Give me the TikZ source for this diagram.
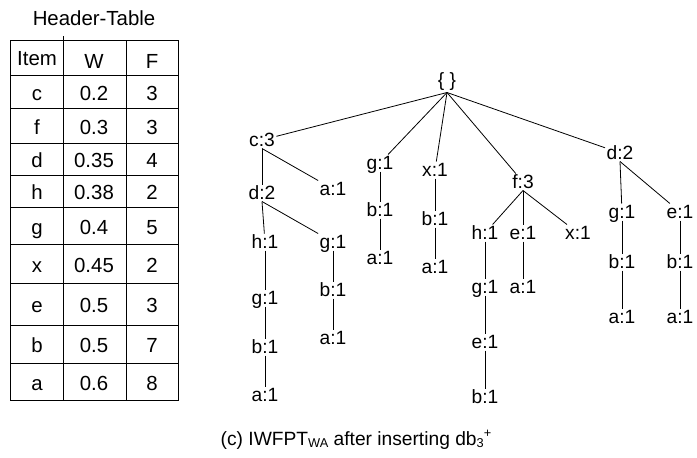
\documentclass[tikz,border=0pt]{standalone}
\usepackage{fontspec}
\setmainfont{Liberation Sans}
\usetikzlibrary{positioning}
\tikzset{entry/.style = {inner sep=0.6pt, font=\fontsize{9.6}{11}\selectfont, text height=6.9pt, text depth=0pt}}
\tikzset{cell/.style = {inner sep=0pt, font=\fontsize{10.2}{12}\selectfont, text height=7.3pt, text depth=0pt}}

\begin{document}
\begin{tikzpicture}[x=0.5pt, y=-0.5pt]
            \useasboundingbox (0,0) rectangle (697,457);

            % header table
            \node[cell] (title) at (94,18) {Header-Table};
            \draw (10,40) rectangle (178,400);
            \draw (63,36) -- (63,400);
            \draw (126,40) -- (126,400);
            \draw (10,75) -- (178,75);
            \draw (10,108) -- (178,108);
            \draw (10,143) -- (178,143);
            \draw (10,175) -- (178,175);
            \draw (10,207) -- (178,207);
            \draw (10,244) -- (178,244);
            \draw (10,283) -- (178,283);
            \draw (10,325) -- (178,325);
            \draw (10,363) -- (178,363);

            \node[cell] (hI) at ( 37,58) {Item};
            \node[cell] (hW) at ( 94,61) {W};
            \node[cell] (hF) at (152,61) {F};
            \node[cell] (i1) at ( 37,93) {c};    \node[cell] (w1) at ( 94,93) {0.2};  \node[cell] (f1) at (152,93) {3};
            \node[cell] (i2) at ( 37,127) {f};   \node[cell] (w2) at ( 94,127) {0.3}; \node[cell] (f2) at (152,127) {3};
            \node[cell] (i3) at ( 37,160) {d};   \node[cell] (w3) at ( 94,160) {0.35};\node[cell] (f3) at (152,160) {4};
            \node[cell] (i4) at ( 37,192) {h};   \node[cell] (w4) at ( 94,192) {0.38};\node[cell] (f4) at (152,192) {2};
            \node[cell] (i5) at ( 37,227) {g};   \node[cell] (w5) at ( 94,227) {0.4}; \node[cell] (f5) at (152,227) {5};
            \node[cell] (i6) at ( 37,265) {x};   \node[cell] (w6) at ( 94,265) {0.45};\node[cell] (f6) at (152,265) {2};
            \node[cell] (i7) at ( 37,305) {e};   \node[cell] (w7) at ( 94,305) {0.5}; \node[cell] (f7) at (152,305) {3};
            \node[cell] (i8) at ( 37,345) {b};   \node[cell] (w8) at ( 94,345) {0.5}; \node[cell] (f8) at (152,345) {7};
            \node[cell] (i9) at ( 37,383) {a};   \node[cell] (w9) at ( 94,383) {0.6}; \node[cell] (f9) at (152,383) {8};

            % tree
            \begin{scope}[every node/.style=entry]
            \node[text depth=2pt] (root) at (447,82) {\{ \}};

            \node (cA) at (262,140) {c:3};
            \node (cB) at (262,193) {d:2};
            \node (cC) at (333,189) {a:1};
            \node (cD) at (265,242) {h:1};
            \node (cE) at (333,242) {g:1};
            \node (cF) at (265,298) {g:1};
            \node (cG) at (265,347) {b:1};
            \node (cH) at (265,395) {a:1};
            \node (cI) at (333,290) {b:1};
            \node (cJ) at (333,338) {a:1};

            \node (gA) at (380,163) {g:1};
            \node (gB) at (380,210) {b:1};
            \node (gC) at (380,258) {a:1};

            \node (xA) at (435,170) {x:1};
            \node (xB) at (435,219) {b:1};
            \node (xC) at (435,267) {a:1};

            \node (fA) at (523,182) {f:3};
            \node (fB) at (485,233) {h:1};
            \node (fC) at (523,233) {e:1};
            \node (fD) at (578,233) {x:1};
            \node (fE) at (485,287) {g:1};
            \node (fF) at (523,287) {a:1};
            \node (fG) at (485,342) {e:1};
            \node (fH) at (485,397) {b:1};

            \node (dA) at (620,153) {d:2};
            \node (dB) at (622,212) {g:1};
            \node (dC) at (680,212) {e:1};
            \node (dD) at (622,262) {b:1};
            \node (dE) at (680,262) {b:1};
            \node (dF) at (622,317) {a:1};
            \node (dG) at (680,317) {a:1};
            \end{scope}

            \draw (root.south) -- (cA);
            \draw (root.south) -- (gA);
            \draw (root.south) -- (xA);
            \draw (root.south) -- (fA);
            \draw (root.south) -- (dA);

            \draw (cA.south) -- (cB);
            \draw (cA.south) -- (cC);
            \draw (cB.south) -- (cD);
            \draw (cB.south) -- (cE);
            \draw (cD.south) -- (cF) -- (cG) -- (cH);
            \draw (cE.south) -- (cI) -- (cJ);

            \draw (gA) -- (gB) -- (gC);
            \draw (xA) -- (xB) -- (xC);

            \draw (fA.south) -- (fB);
            \draw (fA.south) -- (fC);
            \draw (fA.south) -- (fD);
            \draw (fB) -- (fE) -- (fG) -- (fH);
            \draw (fC) -- (fF);

            \draw (dA.south) -- (dB);
            \draw (dA.south) -- (dC);
            \draw (dB) -- (dD) -- (dF);
            \draw (dC) -- (dE) -- (dG);

            \node[cell, font=\fontsize{9.6}{11}\selectfont] (caption) at (356,438)
                {(c) IWFPT{\fontsize{6.4}{7}\selectfont\raisebox{-0.35ex}{WA}} after inserting db{\fontsize{6.4}{7}\selectfont\raisebox{-0.35ex}{3}\raisebox{1.1ex}{+}}};
        \end{tikzpicture}
\end{document}
